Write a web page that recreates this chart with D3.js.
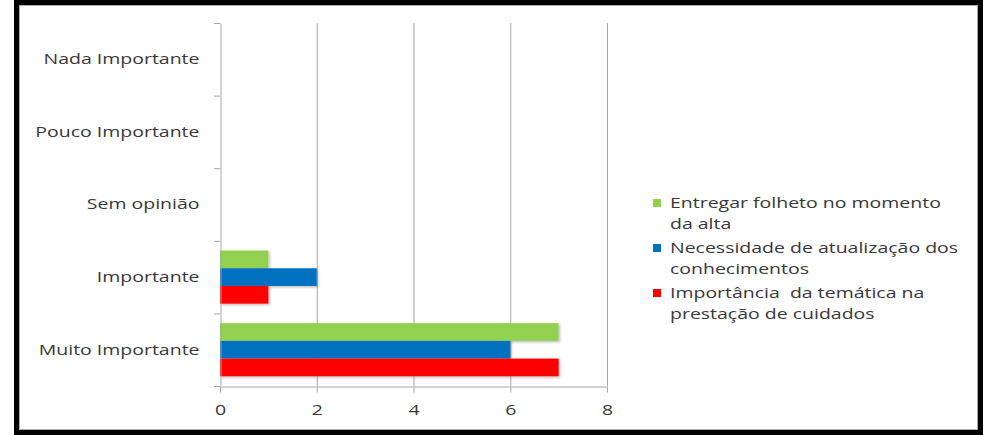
<!DOCTYPE html>
<html>
<head>
<meta charset="utf-8">
<script src="https://cdn.jsdelivr.net/npm/d3@7"></script>
<style>
    body { margin: 0; background: #fff; }
    svg { display: block; font-family: "Open Sans", sans-serif; }
</style>
</head>
<body>
<div id="chart"></div>
<script>
// data
const categories = ["Nada Importante", "Pouco Importante", "Sem opinião", "Importante", "Muito Importante"];
const seriesNames = [
    ["Entregar folheto no momento", "da alta"],
    ["Necessidade de atualização dos", "conhecimentos"],
    ["Importância  da temática na", "prestação de cuidados"]
];
const seriesColors = ["#92d050", "#0070c0", "#ff0000"];
const entregarValues = [0, 0, 0, 1, 7];
const necessidadeValues = [0, 0, 0, 2, 6];
const importanciaValues = [0, 0, 0, 1, 7];
const xTicks = [0, 2, 4, 6, 8];

let width = 985,
    height = 435,
    plot = {left: 220, right: 607, top: 23, bottom: 386},
    fontSize = 15,
    stretch = 1.3, // the picture's text is wider than it is tall
    textColor = "#383838",
    gridColor = "#a6a6a6",
    svg, x, y, ySub;

let series = [entregarValues, necessidadeValues, importanciaValues];

svg = d3.select("#chart")
    .append("svg")
    .attr("width", width)
    .attr("height", height);

// soft shadow under the bars
svg.append("defs")
    .append("filter")
    .attr("id", "bar_shadow")
    .attr("x", "-5%").attr("y", "-20%")
    .attr("width", "115%").attr("height", "160%")
    .append("feDropShadow")
    .attr("dx", 1.5).attr("dy", 1.5)
    .attr("stdDeviation", 1)
    .attr("flood-color", "#000")
    .attr("flood-opacity", 0.25);

// thick black frame round the whole picture
svg.append("rect")
    .attr("x", 16.5).attr("y", 2.5)
    .attr("width", 964).attr("height", 430)
    .attr("fill", "#fff")
    .attr("stroke", "#000")
    .attr("stroke-width", 5);
svg.append("rect")
    .attr("x", 19.5).attr("y", 5.5)
    .attr("width", 958).attr("height", 424)
    .attr("fill", "none")
    .attr("stroke", "#aaa")
    .attr("stroke-width", 1);

// scales
x = d3.scaleLinear().domain([0, 8]).range([plot.left, plot.right]);
y = d3.scaleBand().domain(categories).range([plot.top, plot.bottom]);
ySub = d3.scaleBand().domain(d3.range(series.length))
    .range([0, y.bandwidth()])
    .paddingOuter(0.55)
    .paddingInner(0);

// vertical grid lines
svg.append("g")
    .selectAll("line")
    .data(xTicks.slice(1))
    .join("line")
    .attr("x1", d => x(d) + 0.5).attr("x2", d => x(d) + 0.5)
    .attr("y1", plot.top).attr("y2", plot.bottom)
    .attr("stroke", gridColor);

// bars, one group per category
let groups = svg.append("g")
    .attr("filter", "url(#bar_shadow)")
    .selectAll("g")
    .data(categories)
    .join("g")
    .attr("transform", d => `translate(0, ${y(d)})`);

groups.selectAll("rect")
    .data((c, i) => series.map((s, k) => ({k: k, v: s[i]})))
    .join("rect")
    .attr("x", x(0))
    .attr("y", d => ySub(d.k))
    .attr("width", d => x(d.v) - x(0))
    .attr("height", ySub.bandwidth())
    .attr("fill", d => seriesColors[d.k]);

// x axis
let xAxis = svg.append("g")
    .attr("transform", `translate(0, ${plot.bottom + 0.5})`)
    .call(d3.axisBottom(x).tickValues(xTicks).tickSize(6).tickSizeOuter(0).tickPadding(12));

// y axis
let yAxis = svg.append("g")
    .attr("transform", `translate(${plot.left + 0.5}, 0)`)
    .call(d3.axisLeft(y).tickSize(0).tickPadding(21));

yAxis.selectAll(".tick text")
    .attr("x", -21 / stretch)
    .attr("transform", `scale(${stretch}, 1)`);

// y ticks sit on band boundaries, not centers
svg.append("g")
    .selectAll("line")
    .data(d3.range(categories.length + 1))
    .join("line")
    .attr("x1", plot.left - 6).attr("x2", plot.left)
    .attr("y1", i => plot.top + i * y.step() + 0.5)
    .attr("y2", i => plot.top + i * y.step() + 0.5)
    .attr("stroke", gridColor);

[xAxis, yAxis].forEach(a => {
    a.select(".domain").attr("stroke", gridColor);
    a.selectAll(".tick line").attr("stroke", gridColor);
    a.selectAll("text")
        .attr("font-family", "Open Sans, sans-serif")
        .attr("font-size", fontSize)
        .attr("fill", textColor);
});
xAxis.selectAll(".tick text")
    .attr("transform", `scale(${stretch}, 1)`);

// legend
let legend = svg.append("g")
    .attr("transform", "translate(653, 203)");

let items = legend.selectAll("g")
    .data(seriesNames)
    .join("g")
    .attr("transform", (d, i) => `translate(0, ${i * 45})`);

items.append("rect")
    .attr("x", 0).attr("y", -4)
    .attr("width", 8).attr("height", 8)
    .attr("fill", (d, i) => seriesColors[i]);

items.append("text")
    .attr("transform", `translate(17, 0) scale(${stretch}, 1)`)
    .attr("font-size", fontSize)
    .attr("fill", textColor)
    .style("white-space", "pre")
    .selectAll("tspan")
    .data(d => d)
    .join("tspan")
    .attr("x", 0)
    .attr("y", (d, j) => j * 21)
    .attr("dy", "0.35em")
    .text(d => d);
</script>
</body>
</html>
